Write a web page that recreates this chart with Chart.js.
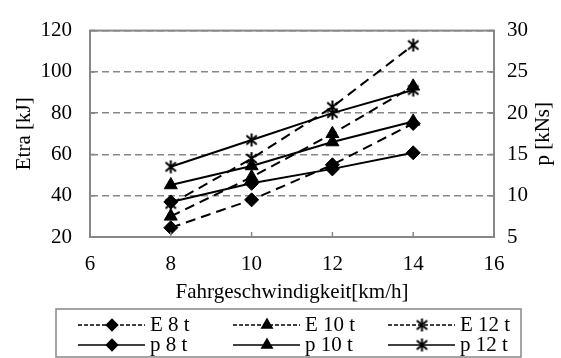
<!DOCTYPE html>
<html>
<head>
<meta charset="utf-8">
<script src="https://cdn.jsdelivr.net/npm/chart.js@4/dist/chart.umd.min.js"></script>
<style>
html, body { margin: 0; padding: 0; background: #fff; }
</style>
</head>
<body>
<canvas id="myChart" width="561" height="358"></canvas>
<script>
// speeds in km/h
var speeds = [8, 10, 12, 14];
var xTicks = [6, 8, 10, 12, 14, 16];
// Etra [kJ] (left axis)
var e8 = [24.5, 38, 55, 75];
var e10 = [30, 49, 70, 93];
var e12 = [36, 58, 83, 113];
// p [kNs] (right axis)
var p8 = [9.25, 11.5, 13.25, 15.2];
var p10 = [11.3, 13.6, 16.5, 19];
var p12 = [13.5, 16.75, 20, 22.8];
var seriesNames = ['E 8 t', 'E 10 t', 'E 12 t', 'p 8 t', 'p 10 t', 'p 12 t'];

var FONT = '"Liberation Serif", "Times New Roman", serif';
var FS = 21;
var GRAY = '#878787';

var toXY = function(vals) {
    return speeds.map(function(s, i) { return {x: s, y: vals[i]}; });
};

// excel-like asterisk marker
var makeStar = function(size) {
    var c = document.createElement('canvas');
    c.width = size; c.height = size;
    var g = c.getContext('2d');
    var m = size / 2, r = size / 2 - 1;
    g.strokeStyle = '#000';
    g.lineWidth = 2;
    g.beginPath();
    g.moveTo(m, m - r); g.lineTo(m, m + r);
    g.moveTo(m - r * 0.8, m - r * 0.7); g.lineTo(m + r * 0.8, m + r * 0.7);
    g.moveTo(m + r * 0.8, m - r * 0.7); g.lineTo(m - r * 0.8, m + r * 0.7);
    g.stroke();
    return c;
};
var star = makeStar(15);

var makeSet = function(label, vals, axis, dashed, style, radius) {
    return {
        label: label,
        data: toXY(vals),
        yAxisID: axis,
        borderColor: '#000',
        backgroundColor: '#000',
        borderWidth: 2,
        borderDash: dashed ? [10, 6] : [],
        pointStyle: style,
        pointRadius: radius,
        pointHoverRadius: radius,
        pointBackgroundColor: '#000',
        pointBorderColor: '#000',
        pointBorderWidth: 1,
        tension: 0,
        fill: false
    };
};

var frame = {
    id: 'frame',
    afterDraw: function(chart) {
        var ctx = chart.ctx;
        var a = chart.chartArea;
        ctx.save();
        ctx.setLineDash([]);
        ctx.strokeStyle = GRAY;
        ctx.lineWidth = 2;
        ctx.strokeRect(a.left, a.top, a.right - a.left, a.bottom - a.top);
        // inner tick marks
        ctx.lineWidth = 1.5;
        ctx.beginPath();
        chart.scales.x.ticks.forEach(function(t) {
            var px = chart.scales.x.getPixelForValue(t.value);
            ctx.moveTo(px, a.bottom); ctx.lineTo(px, a.bottom - 5);
        });
        chart.scales.y.ticks.forEach(function(t) {
            var py = chart.scales.y.getPixelForValue(t.value);
            ctx.moveTo(a.left, py); ctx.lineTo(a.left + 5, py);
            ctx.moveTo(a.right, py); ctx.lineTo(a.right - 5, py);
        });
        ctx.stroke();

        // right axis title, reading bottom to top
        ctx.fillStyle = '#000';
        ctx.font = FS + 'px ' + FONT;
        ctx.textAlign = 'center';
        ctx.textBaseline = 'middle';
        ctx.save();
        ctx.translate(543, (a.top + a.bottom) / 2);
        ctx.rotate(-Math.PI / 2);
        ctx.fillText('p [kNs]', 0, 0);
        ctx.restore();

        // legend box
        ctx.strokeStyle = GRAY;
        ctx.lineWidth = 1.5;
        ctx.strokeRect(56, 309, 465, 48);
        ctx.textAlign = 'left';
        chart.data.datasets.forEach(function(ds, i) {
            var col = i % 3, row = Math.floor(i / 3);
            var x0 = 78 + col * 155, y = 325 + row * 20;
            ctx.strokeStyle = '#000';
            ctx.lineWidth = 1.5;
            ctx.setLineDash(ds.borderDash.length ? [4, 2] : []);
            ctx.beginPath();
            ctx.moveTo(x0, y); ctx.lineTo(x0 + 67, y);
            ctx.stroke();
            ctx.setLineDash([]);
            ctx.fillStyle = '#000';
            Chart.helpers.drawPoint(ctx, {
                pointStyle: ds.pointStyle,
                radius: ds.pointRadius * 0.8,
                borderWidth: 1,
                rotation: 0
            }, x0 + 34, y);
            ctx.fillStyle = '#000';
            ctx.fillText(ds.label, x0 + 72, y);
        });
        ctx.restore();
    }
};

var ctx = document.getElementById('myChart');
var myChart = new Chart(ctx, {
    type: 'line',
    data: {
        datasets: [
            makeSet(seriesNames[0], e8, 'y', true, 'rectRot', 7),
            makeSet(seriesNames[1], e10, 'y', true, 'triangle', 7.5),
            makeSet(seriesNames[2], e12, 'y', true, star, 7),
            makeSet(seriesNames[3], p8, 'y1', false, 'rectRot', 7),
            makeSet(seriesNames[4], p10, 'y1', false, 'triangle', 7.5),
            makeSet(seriesNames[5], p12, 'y1', false, star, 7)
        ]
    },
    options: {
        responsive: false,
        animation: false,
        events: [],
        layout: { padding: { top: 19, bottom: 53, left: 0, right: 0 } },
        plugins: {
            legend: { display: false },
            tooltip: { enabled: false }
        },
        scales: {
            x: {
                type: 'linear',
                min: 6,
                max: 16,
                afterBuildTicks: function(scale) {
                    scale.ticks = xTicks.map(function(v) { return {value: v}; });
                },
                grid: { display: false, drawTicks: false },
                border: { display: true, color: GRAY, width: 2 },
                ticks: { color: '#000', padding: 15, maxRotation: 0, font: { family: FONT, size: FS } },
                title: {
                    display: true,
                    text: 'Fahrgeschwindigkeit[km/h]',
                    color: '#000',
                    padding: 0,
                    font: { family: FONT, size: FS }
                },
                afterFit: function(scale) { scale.height = 68; }
            },
            y: {
                position: 'left',
                min: 20,
                max: 120,
                ticks: { stepSize: 20, color: '#000', padding: 18, font: { family: FONT, size: FS } },
                grid: { color: GRAY, lineWidth: 1.5, drawTicks: false },
                border: { display: true, color: GRAY, width: 2, dash: [7, 4] },
                title: {
                    display: true,
                    text: 'Etra [kJ]',
                    color: '#000',
                    padding: { top: 12, bottom: 0 },
                    font: { family: FONT, size: FS }
                },
                afterFit: function(scale) { scale.width = 90; }
            },
            y1: {
                position: 'right',
                min: 5,
                max: 30,
                ticks: { stepSize: 5, color: '#000', padding: 13, font: { family: FONT, size: FS } },
                grid: { drawOnChartArea: false, drawTicks: false },
                border: { display: true, color: GRAY, width: 2 },
                afterFit: function(scale) { scale.width = 67; }
            }
        }
    },
    plugins: [frame]
});
</script>
</body>
</html>
